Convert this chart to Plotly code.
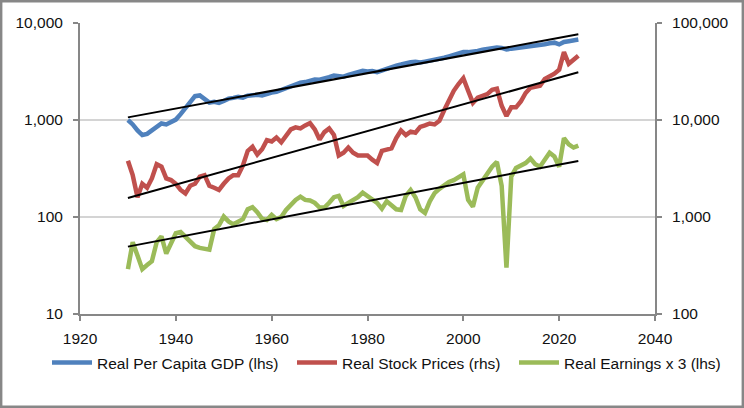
import plotly.graph_objects as go

years = list(range(1930, 2025))

gdp = [
    1000, 900, 780, 700, 720, 780, 860, 920, 900, 940,
    1010, 1150, 1320, 1560, 1760, 1790, 1620, 1510, 1540, 1500,
    1570, 1660, 1690, 1730, 1700, 1780, 1800, 1820, 1790, 1880,
    1920, 1950, 2040, 2100, 2190, 2300, 2420, 2460, 2550, 2610,
    2600, 2650, 2760, 2880, 2840, 2800, 2920, 3020, 3150, 3210,
    3160, 3200, 3110, 3230, 3430, 3540, 3640, 3730, 3850, 3950,
    3980, 3910, 4000, 4070, 4190, 4260, 4380, 4530, 4690, 4870,
    5020, 5010, 5050, 5150, 5310, 5440, 5540, 5590, 5530, 5340,
    5440, 5500, 5590, 5670, 5760, 5890, 5940, 6030, 6170, 6270,
    6020, 6380, 6490, 6630, 6750,
]

stocks = [
    3800, 2700, 1600, 2200, 2000, 2500, 3500, 3300, 2500, 2400,
    2200, 1900, 1750, 2100, 2200, 2600, 2700, 2100, 2000, 1900,
    2200, 2500, 2700, 2700, 3400, 4800, 5300, 4400, 5000, 6200,
    6000, 6600, 5900, 7000, 8000, 8400, 8200, 8800, 9300, 8000,
    6300, 7500, 8200, 7000, 4300, 4600, 5200, 4600, 4300, 4300,
    4300, 3900, 3600, 4800, 5000, 5100, 6500, 7800, 7000, 7600,
    7400, 8500, 8800, 9200, 9000, 9800, 12600, 15800, 20000, 23500,
    27000, 20000, 15000, 17000, 18000, 18500, 20500, 21000, 14000, 11000,
    13500, 13500, 15500, 19000, 21500, 22000, 22500, 26500, 28000, 30000,
    33000, 50000, 38000, 42000, 46000,
]

earnings = [
    29, 55, 40, 29, 32, 35, 55, 63, 42, 55,
    68, 70, 62, 55, 50, 48, 47, 46, 75, 82,
    101, 90, 84, 90, 95, 120, 126, 112, 96, 93,
    105, 95, 100, 118, 135, 150, 162, 150, 148, 140,
    125, 125, 140, 160, 165, 130, 140, 150, 160, 178,
    165, 155, 140, 122, 145, 132, 120, 118, 165, 190,
    160, 120, 110, 145, 176, 195, 215, 230, 240, 255,
    275, 150, 128, 200, 240, 280, 330, 370, 210, 30,
    260, 320, 340, 360, 400, 350, 330, 390, 460, 420,
    330, 650, 560, 520, 545,
]

trend_years = [1930, 2024]
gdp_trend = [1064, 7650]
stock_trend = [1570, 31100]
earn_trend = [49.5, 378]

lhs_ticks = [10, 100, 1000, 10000]
lhs_text = ["10", "100", "1,000", "10,000"]
rhs_ticks = [100, 1000, 10000, 100000]
rhs_text = ["100", "1,000", "10,000", "100,000"]
x_ticks = [1920, 1940, 1960, 1980, 2000, 2020, 2040]

BLUE = "#4F81BD"
RED = "#C0504D"
GREEN = "#9BBB59"
AXIS = "#878787"
FONT = "Liberation Sans"
FS = 15.5
TXT = "#111111"

W, H = 744, 408
ML, MR, MT, MB = 80, 89, 23, 94
PW, PH = W - ML - MR, H - MT - MB


def px(x):
    return (x - ML) / PW


def py(y):
    return (H - MB - y) / PH


fig = go.Figure()
fig.add_trace(go.Scatter(x=years, y=gdp, mode="lines", name="Real Per Capita GDP (lhs)",
                         line=dict(color=BLUE, width=4.5), yaxis="y", legend="legend"))
fig.add_trace(go.Scatter(x=years, y=earnings, mode="lines", name="Real Earnings x 3 (lhs)",
                         line=dict(color=GREEN, width=4.5), yaxis="y", legend="legend3"))
fig.add_trace(go.Scatter(x=trend_years, y=gdp_trend, mode="lines", showlegend=False,
                         line=dict(color="black", width=2), yaxis="y"))
fig.add_trace(go.Scatter(x=trend_years, y=earn_trend, mode="lines", showlegend=False,
                         line=dict(color="black", width=2), yaxis="y"))
fig.add_trace(go.Scatter(x=years, y=stocks, mode="lines", name="Real Stock Prices (rhs)",
                         line=dict(color=RED, width=4.5), yaxis="y2", legend="legend2"))
fig.add_trace(go.Scatter(x=trend_years, y=stock_trend, mode="lines", showlegend=False,
                         line=dict(color="black", width=2), yaxis="y2"))


def leg(xpix):
    return dict(orientation="h", x=px(xpix), xanchor="left", y=py(363), yanchor="middle",
                font=dict(family=FONT, size=FS, color=TXT), itemwidth=40,
                bgcolor="rgba(0,0,0,0)", borderwidth=0)


fig.update_layout(
    width=W, height=H,
    margin=dict(l=ML, r=MR, t=MT, b=MB, pad=0, autoexpand=False),
    paper_bgcolor="white", plot_bgcolor="white",
    font=dict(family=FONT, size=FS, color=TXT),
    showlegend=True,
    legend=leg(47), legend2=leg(292), legend3=leg(514),
    xaxis=dict(range=[1920, 2040], tickvals=x_ticks, showgrid=False, zeroline=False,
               showline=True, linecolor=AXIS, linewidth=2, ticks="outside", ticklen=5,
               tickwidth=2, tickcolor=AXIS, ticklabelstandoff=4, automargin=False),
    yaxis=dict(type="log", range=[1, 4], tickvals=lhs_ticks, ticktext=lhs_text,
               showgrid=True, gridcolor="#D4D4D4", gridwidth=1.5, zeroline=False,
               showline=True, linecolor=AXIS, linewidth=2, ticks="outside", ticklen=5,
               tickwidth=2, tickcolor=AXIS, ticklabelstandoff=7, automargin=False),
    yaxis2=dict(type="log", range=[2, 5], tickvals=rhs_ticks, ticktext=rhs_text,
                overlaying="y", side="right", showgrid=False, zeroline=False,
                showline=True, linecolor=AXIS, linewidth=2, ticks="outside", ticklen=5,
                tickwidth=2, tickcolor=AXIS, ticklabelstandoff=7, automargin=False),
    shapes=[dict(type="rect", xref="paper", yref="paper",
                 x0=px(1.2), x1=px(742.8), y0=py(406.8), y1=py(1.2),
                 line=dict(color=AXIS, width=2.4), fillcolor="rgba(0,0,0,0)", layer="above")],
)

fig.write_html("out.html", config={"displayModeBar": False},
               post_script="document.body.style.margin='0';document.body.style.padding='0';")
